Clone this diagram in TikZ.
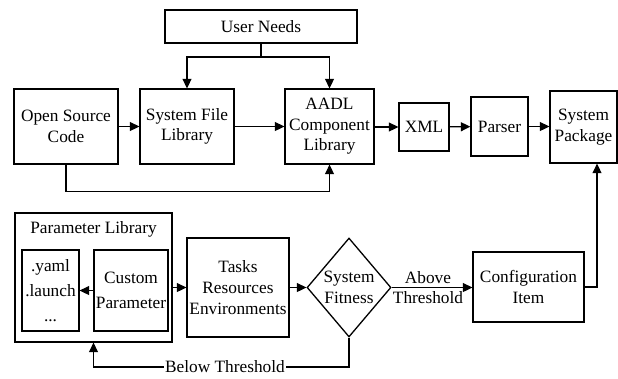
\documentclass[tikz,border=0pt]{standalone}
\usepackage{fontspec}
\setmainfont{Liberation Serif}
\usetikzlibrary{arrows.meta,shapes.geometric,positioning}

\tikzset{
  box/.style={draw, line width=1.3pt, inner sep=0pt, align=center},
  arr/.style={line width=1.3pt, -{Triangle[length=9.5pt,width=9pt]}},
  wire/.style={line width=1.3pt},
  txt/.style={inner sep=0pt, align=center},
}

\begin{document}
\begin{tikzpicture}[x=1pt, y=-1pt,
  every node/.append style={font=\fontsize{17.3}{20.5}\selectfont}]
\useasboundingbox (0,0) rectangle (618,378);

% top row
\node[box, minimum width=192pt, minimum height=33pt] (un) at (261,26.5) {User Needs};
\node[box, minimum width=104pt, minimum height=75pt] (osc) at (66,126.5) {Open Source\\Code};
\node[box, minimum width=94pt, minimum height=75pt] (sfl) at (187,126.5) {System File\\Library};
\node[box, minimum width=89pt, minimum height=75pt] (aadl) at (329.5,126.5) {AADL\\Component\\Library};
\node[box, minimum width=50pt, minimum height=48pt] (xml) at (424,127) {XML};
\node[box, minimum width=57pt, minimum height=59pt] (parser) at (499.5,126.5) {Parser};
\node[box, minimum width=67pt, minimum height=72pt] (pkg) at (583.5,127) {System\\Package};

% bottom row
\node[box, minimum width=157pt, minimum height=129pt] (plib) at (93.5,277.5) {};
\node[txt] (pliblabel) at (93.5,229) {Parameter Library};
\node[box, minimum width=57pt, minimum height=81pt,
      font=\fontsize{17.3}{25}\selectfont] (yaml) at (50.5,290.5) {.yaml\\.launch\\...};
\node[box, minimum width=74pt, minimum height=81pt,
      font=\fontsize{17.3}{25.5}\selectfont] (custom) at (131,290.5) {Custom\\Parameter};
\node[box, minimum width=102pt, minimum height=99pt,
      font=\fontsize{17.3}{21}\selectfont] (tasks) at (238,287.5) {Tasks\\Resources\\Environments};
\node[draw, diamond, line width=1.3pt, inner sep=0pt, minimum width=84pt, minimum height=99pt] (fit) at (349,287.5) {};
\node[txt] (fittxt) at (349,287.5) {System\\Fitness};
\node[box, minimum width=111pt, minimum height=70pt] (cfg) at (528.5,287) {Configuration\\Item};

% connectors, top row
\coordinate (split) at (261,57);
\draw[wire] (un.south) -- (split);
\draw[arr] (split) -| (sfl.north);
\draw[arr] (split) -| (aadl.north);
\draw[arr] (osc) -- (sfl);
\draw[arr] (sfl) -- (aadl);
\draw[arr] (osc.south) -- ++(0,27) -| (aadl.south);
\draw[arr] (aadl.east |- xml.west) -- (xml.west);
\draw[arr] (xml) -- (parser);
\draw[arr] (parser.east) -- (pkg.west |- parser.east);

% connectors, bottom row
\draw[arr] (custom.west) -- (yaml.east);
\draw[arr] (plib.east |- tasks.west) -- (tasks.west);
\draw[arr] (tasks.east) -- (fit.west);
\draw[arr] (fit.east) -- (cfg.west |- fit.east);
\node[txt] (above) at (428,287.5) {Above\\Threshold};
\draw[arr] (cfg.east) -| ([xshift=13.5pt]pkg.south);
\coordinate (bend) at (349,367);
\draw[arr] (fit.south) -- (bend) -| (plib.south);
\node[txt, fill=white, inner xsep=1pt] (below) at (225,367) {Below Threshold};
\end{tikzpicture}
\end{document}
